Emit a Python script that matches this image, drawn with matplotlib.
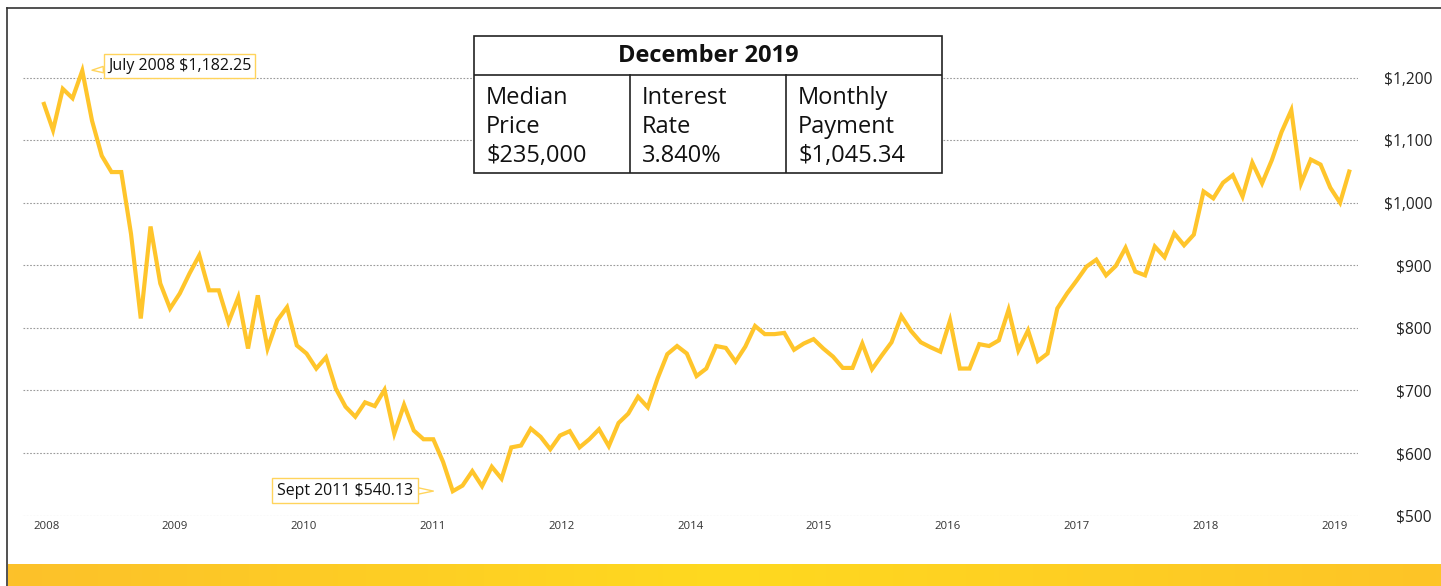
import numpy as np
import matplotlib
matplotlib.use('Agg')
import matplotlib.pyplot as plt
from matplotlib.colors import LinearSegmentedColormap
from matplotlib.lines import Line2D

plt.rcParams['font.family'] = ['Open Sans', 'DejaVu Sans']

# monthly payment values
payment = [1161, 1116, 1182, 1167, 1211, 1131, 1075, 1049, 1049, 950,
           815, 962, 871, 831, 855, 887, 916, 860, 860, 809,
           849, 767, 852, 767, 812, 833, 772, 759, 735, 753,
           703, 674, 658, 681, 675, 701, 631, 677, 636, 622,
           622, 586, 539, 548, 571, 547, 578, 559, 609, 612,
           639, 626, 606, 628, 635, 609, 622, 638, 611, 648,
           663, 690, 673, 719, 758, 771, 759, 723, 735, 771,
           768, 746, 770, 803, 790, 790, 792, 765, 775, 782,
           767, 754, 736, 736, 775, 734, 756, 777, 819, 795,
           777, 769, 762, 812, 735, 735, 774, 771, 780, 829,
           764, 796, 747, 759, 831, 855, 876, 898, 909, 884,
           899, 928, 890, 884, 930, 913, 951, 932, 949, 1018,
           1007, 1032, 1044, 1010, 1064, 1031, 1068, 1113, 1148, 1031,
           1069, 1061, 1024, 1000, 1053]

year_labels = ['2008', '2009', '2010', '2011', '2012', '2014',
               '2015', '2016', '2017', '2018', '2019']
y_ticks = [500, 600, 700, 800, 900, 1000, 1100, 1200]

peak_label = 'July 2008 $1,182.25'
low_label = 'Sept 2011 $540.13'

table_title = 'December 2019'
table_cells = ['Median\nPrice\n$235,000',
               'Interest\nRate\n3.840%',
               'Monthly\nPayment\n$1,045.34']

LINE = '#FFC52B'
BOX_EDGE = '#FFD45C'

W, H = 1441, 586
fig = plt.figure(figsize=(W / 100, H / 100), dpi=100)


def fx(px):
    return px / W


def fy(py):
    return 1 - py / H


# outer frame (left + top edges only, the rest runs off the picture)
fig.add_artist(Line2D([fx(7), fx(7)], [0, fy(7.5)], color='#333333', lw=1.2,
                      transform=fig.transFigure))
fig.add_artist(Line2D([fx(7), 1], [fy(7.5), fy(7.5)], color='#333333', lw=1.2,
                      transform=fig.transFigure))

# yellow band at the bottom
band = fig.add_axes([fx(7.6), 0, 1 - fx(7.6), 22 / H])
cmap = LinearSegmentedColormap.from_list('band', ['#FCC12A', '#FFD91F', '#FDC427'])
band.imshow(np.linspace(0, 1, 256)[None, :], cmap=cmap, aspect='auto')
band.axis('off')

# main chart
ax = fig.add_axes([fx(23), fy(515.6), fx(1358 - 23), (515.6 - 15) / H])
ax.patch.set_alpha(0)
x = np.arange(len(payment))
ax.plot(x, payment, color=LINE, lw=3, solid_joinstyle='miter', solid_capstyle='butt')

ax.set_xlim(-2.08, 134.84)
ax.set_ylim(500, 1300)

ax.set_yticks(y_ticks)
ax.set_yticklabels([f'${v:,}' for v in y_ticks])
ax.yaxis.tick_right()
ax.tick_params(axis='y', length=0, pad=53.3, labelsize=11.2, labelcolor='#222222')
for t in ax.get_yticklabels():
    t.set_ha('right')

ax.set_xticks(np.arange(len(year_labels)) * 13.21 + 0.3)
ax.set_xticklabels(year_labels)
ax.tick_params(axis='x', length=0, pad=4, labelsize=8.2, labelcolor='#333333')

ax.grid(axis='y', color='#9a9a9a', lw=0.8, ls=(0, (1.5, 1.5)))
ax.grid(axis='x', visible=False)
ax.set_axisbelow(True)
for s in ax.spines.values():
    s.set_visible(False)

# callouts at the high and the low
i_hi = int(np.argmax(payment))
i_lo = int(np.argmin(payment))
ax.annotate(peak_label, xy=(i_hi, payment[i_hi]), xytext=(70, 3.6),
            textcoords='offset points', ha='center', va='center',
            fontsize=11.5, color='#111111',
            bbox=dict(boxstyle='square,pad=0.25', fc='white', ec=BOX_EDGE, lw=1),
            arrowprops=dict(arrowstyle='wedge,tail_width=0.4', fc='white',
                            ec=BOX_EDGE, lw=1, shrinkA=0, shrinkB=7))
ax.annotate(low_label, xy=(i_lo, payment[i_lo]), xytext=(-77.6, 0.5),
            textcoords='offset points', ha='center', va='center',
            fontsize=11.4, color='#111111',
            bbox=dict(boxstyle='square,pad=0.3', fc='white', ec=BOX_EDGE, lw=1),
            arrowprops=dict(arrowstyle='wedge,tail_width=0.4', fc='white',
                            ec=BOX_EDGE, lw=1, shrinkA=0, shrinkB=14))

# summary table
tw, th = 942 - 474, 172.7 - 35.5
tab = fig.add_axes([fx(474), fy(172.7), fx(tw), th / H])
tab.set_xlim(0, tw)
tab.set_ylim(th, 0)
tab.axis('off')
tab.add_patch(plt.Rectangle((0, 0), tw, th, fc='white', ec='#222222', lw=1.2,
                            clip_on=False))
tab.plot([0, tw], [39.5, 39.5], color='#222222', lw=1.2)
col_w = tw / 3
for k in (1, 2):
    tab.plot([col_w * k, col_w * k], [39.5, th], color='#222222', lw=1.2)
tab.text(tw / 2, 20, table_title, ha='center', va='center', fontsize=17,
         fontweight='bold', color='#111111')
for k, cell in enumerate(table_cells):
    tab.text(col_w * k + 12, 126.3, cell, ha='left', va='baseline', fontsize=17,
             color='#111111', linespacing=1.27)

fig.savefig('out.png', dpi=100)
